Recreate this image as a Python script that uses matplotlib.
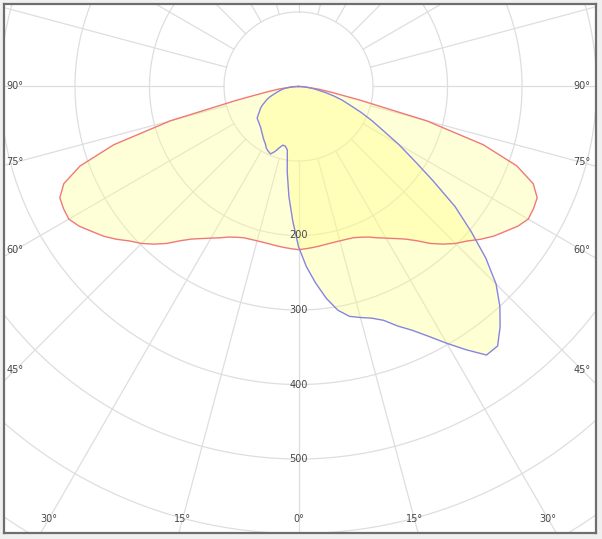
import numpy as np
import matplotlib
matplotlib.use("Agg")
import matplotlib.pyplot as plt

# Intensity curves (cd), angles from nadir in degrees
gamma_c0 = [0, 2.5, 5, 7.5, 10, 12.5, 15, 17.5, 20, 22.5, 25, 27.5, 30, 32.5, 35, 37.5,
            40, 42.5, 45, 47.5, 50, 52.5, 55, 57.5, 60, 62.5, 65, 67.5, 70, 72.5, 75,
            77.5, 80, 82.5, 85, 87.5, 90]
intens_c0 = [219, 218, 217, 216, 215, 214.5, 214.5, 215, 216, 219, 223, 229, 235, 242, 250, 261,
             275, 287, 298, 307, 319, 330, 339, 349, 356, 355.5, 353.5, 341, 312, 260, 178,
             84, 45, 27, 10, 5, 0]

# C90 / C270 plane, signed angle (negative = left half)
gamma_c90 = [-90, -87.5, -85, -82.5, -80, -77.5, -75, -72.5, -70, -67.5, -65, -62.5, -60,
             -57.5, -55, -52.5, -50, -47.5, -45, -42.5, -40, -37.5, -35, -32.5, -30, -27.5,
             -25, -22.5, -20, -17.5, -15, -12.5, -10, -7.5, -5, -2.5,
             0, 2.5, 5, 7.5, 10, 12.5, 15, 17.5, 20, 22.5, 25, 27.5, 30, 32.5, 35, 37.5,
             40, 42.5, 45, 47.5, 50, 52.5, 55, 57.5, 60, 62.5, 65, 67.5, 70, 72.5, 75,
             77.5, 80, 82.5, 85, 87.5, 90]
intens_c90 = [0, 6, 12, 18, 22, 26, 30, 35, 41, 46, 50, 55, 59,
              62, 66, 70, 71, 72, 73.5, 75, 77.5, 80, 83, 86, 89, 93.5,
              96, 98, 93, 86.5, 81.5, 82, 86.5, 116, 148, 180,
              215, 242, 265, 287, 305, 316, 321, 326, 334, 348, 361, 378, 398, 419, 440, 439,
              421, 400, 375, 341, 302, 265, 220, 183, 155, 128, 109, 91, 74, 62, 49,
              36, 25, 18, 11, 5, 0]

ring_values = [100, 200, 300, 400, 500, 600, 700, 800]
ring_labels = [200, 300, 400, 500]
side_angles = [90, 75, 60, 45]
bottom_angles = [30, 15, 0]

grid_col = "#dedede"
text_col = "#464646"


def to_xy(ang, val):
    a = np.radians(np.asarray(ang, dtype=float))
    v = np.asarray(val, dtype=float)
    return v * np.sin(a), -v * np.cos(a)


fig = plt.figure(figsize=(6.02, 5.39), dpi=100, facecolor="#f0f0f0")
ax = fig.add_axes([4 / 602, 6 / 539, 592 / 602, 529 / 539])
ax.set_facecolor("white")
ax.set_xlim(-395.3, 399.3)
ax.set_ylim(-599.3, 110.7)
ax.set_xticks([])
ax.set_yticks([])
for s in ax.spines.values():
    s.set_color("#6e6e6e")
    s.set_linewidth(1.6)

# grid: rings and spokes
t = np.linspace(0, 360, 721)
for r in ring_values:
    x, y = to_xy(t, np.full_like(t, r))
    ax.plot(x, y, color=grid_col, lw=0.9, zorder=1)
for a in range(0, 360, 15):
    x, y = to_xy([a, a], [100, 900])
    ax.plot(x, y, color=grid_col, lw=0.9, zorder=1)

# C0-C180 curve (symmetric)
ang_full = [-g for g in gamma_c0[::-1]] + gamma_c0[1:]
val_full = intens_c0[::-1] + intens_c0[1:]
xr, yr = to_xy(ang_full, val_full)
ax.fill(xr, yr, color="#ffff88", alpha=0.33, lw=0, zorder=2)
ax.plot(xr, yr, color="#f07878", lw=1.0, zorder=3)

# C90-C270 curve
xb, yb = to_xy(gamma_c90, intens_c90)
ax.fill(xb, yb, color="#ffff88", alpha=0.36, lw=0, zorder=2)
ax.plot(xb, yb, color="#8585e0", lw=1.0, zorder=3)

# labels
for a in side_angles:
    yy = -380.5 / np.tan(np.radians(a)) if a != 90 else 0.0
    for sx in (-1, 1):
        ax.text(sx * 380.5, yy, f"{a}°", ha="center", va="center",
                fontsize=7, color=text_col, zorder=4)
for a in bottom_angles:
    xx = 580.5 * np.tan(np.radians(a))
    for sx in ((-1, 1) if a else (1,)):
        ax.text(sx * xx, -580.5, f"{a}°", ha="center", va="center",
                fontsize=7, color=text_col, zorder=4)
for r in ring_labels:
    ax.text(0, -r, str(r), ha="center", va="center",
            fontsize=7, color=text_col, zorder=4)

fig.savefig("out.png", dpi=100, facecolor=fig.get_facecolor())
